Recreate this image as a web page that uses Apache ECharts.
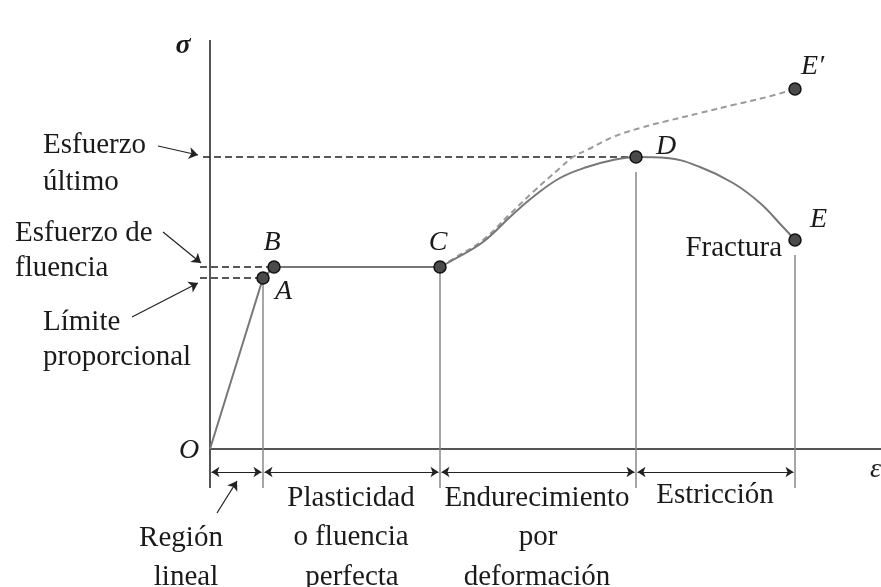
<!DOCTYPE html>
<html>
<head>
<meta charset="utf-8">
<script src="https://cdn.jsdelivr.net/npm/echarts@6/dist/echarts.min.js"></script>
<style>
html, body { margin: 0; padding: 0; background: #fff; }
#main { width: 881px; height: 587px; }
</style>
</head>
<body>
<div id="main"></div>
<script>
// puntos notables del diagrama esfuerzo-deformacion (unidades arbitrarias)
var pointNames = ['A', 'B', 'C', 'D', 'E', 'E\u2032'];
var pointX = [5.3, 6.4, 23.0, 42.6, 58.5, 58.5];
var pointY = [17.1, 18.2, 18.2, 29.2, 20.9, 36.0];

// O -> A -> B -> C (tramo lineal y fluencia)
var elasticX = [0, 5.3, 6.4, 23.0];
var elasticY = [0, 17.1, 18.2, 18.2];

// C -> D -> E (curva convencional)
var curveX = [23.0, 24.3, 27.3, 30.0, 32.3, 35.0, 37.7, 40.3, 42.6, 45.7, 49.0, 52.3, 55.0, 57.3, 58.5];
var curveY = [18.2, 18.9, 20.7, 23.2, 25.2, 27.1, 28.2, 28.9, 29.2, 29.1, 28.2, 26.6, 24.6, 22.2, 20.9];

// C -> E' (curva real, punteada)
var trueX = [23.0, 24.3, 27.3, 30.0, 32.3, 35.0, 36.3, 37.7, 40.3, 43.0, 45.7, 49.0, 52.3, 55.7, 58.5];
var trueY = [18.2, 19.0, 20.9, 23.5, 25.7, 28.1, 29.2, 29.9, 31.2, 32.1, 32.8, 33.6, 34.4, 35.2, 36.0];

// limites de las regiones sobre el eje de deformacion
var regionBounds = [0, 5.3, 23.0, 42.6, 58.5];

function pairs(xs, ys) {
    return xs.map(function (x, i) { return [x, ys[i]]; });
}

var myChart = echarts.init(document.getElementById('main'), null, {renderer: 'canvas'});

var serif = '"Liberation Serif", "Times New Roman", serif';
var txt = '29px ' + serif;
var ital = 'italic 28px ' + serif;
var ink = '#1a1a1a';

// lineas guia
var dimY = -2.3, tickBottom = -3.9;
var vertical = [
    [[regionBounds[1], 17.1], [regionBounds[1], tickBottom]],
    [[regionBounds[2], 18.2], [regionBounds[2], tickBottom]],
    [[regionBounds[3], 27.7], [regionBounds[3], tickBottom]],
    [[regionBounds[4], 19.4], [regionBounds[4], tickBottom]]
];
var dashedH = [
    [[-0.7, pointY[3]], [pointX[3], pointY[3]]],
    [[-1.0, pointY[1]], [pointX[1], pointY[1]]],
    [[-1.0, pointY[0]], [pointX[0], pointY[0]]]
];
var dims = [];
for (var i = 0; i < regionBounds.length - 1; i++) {
    dims.push([{coord: [regionBounds[i] + 0.15, dimY]}, {coord: [regionBounds[i + 1] - 0.15, dimY]}]);
}
var pointers = [
    [{coord: [-5.2, 30.3]}, {coord: [-1.2, 29.4]}],
    [{coord: [-4.7, 21.7]}, {coord: [-0.9, 18.6]}],
    [{coord: [-7.8, 13.2]}, {coord: [-1.2, 16.6]}],
    [{coord: [0.7, -6.4]}, {coord: [2.7, -3.2]}]
];

function seg(name, pts, color, width, type) {
    return {
        name: name, type: 'line', data: pts, symbol: 'none', silent: true,
        lineStyle: {color: color, width: width, type: type || 'solid'}, z: 2
    };
}

var labelOffsets = [[12, 14], [-2, -24], [-2, -24], [20, -10], [15, -20], [6, -22]];
var labelAlign = ['left', 'center', 'center', 'left', 'left', 'left'];

var series = [
    seg('ejeY', [[0, tickBottom], [0, 40.9]], '#555', 2),
    seg('ejeX', [[0, 0], [67.1, 0]], '#555', 2)
];
vertical.forEach(function (v, i) { series.push(seg('v' + i, v, '#888', 1.5)); });
dashedH.forEach(function (h, i) { series.push(seg('h' + i, h, '#222', 1.5, [7, 4])); });

series.push({
    name: 'real', type: 'line', data: pairs(trueX, trueY), symbol: 'none', smooth: 0.4,
    silent: true, lineStyle: {color: '#9a9a9a', width: 2, type: [6, 4]}, z: 3
});
series.push({
    name: 'lineal', type: 'line', data: pairs(elasticX, elasticY), symbol: 'none',
    silent: true, lineStyle: {color: '#777', width: 2}, z: 3
});
series.push({
    name: 'convencional', type: 'line', data: pairs(curveX, curveY), symbol: 'none', smooth: 0.4,
    silent: true, lineStyle: {color: '#777', width: 2}, z: 3,
    markLine: {
        silent: true, symbol: ['arrow', 'arrow'], symbolSize: 8,
        label: {show: false},
        lineStyle: {color: '#222', width: 1, type: 'solid'},
        data: dims
    }
});
series.push({
    name: 'flechas', type: 'line', data: [[0, 0]], symbol: 'none', silent: true,
    lineStyle: {width: 0},
    markLine: {
        silent: true, symbol: ['none', 'arrow'], symbolSize: 9,
        label: {show: false},
        lineStyle: {color: '#222', width: 1.2, type: 'solid'},
        data: pointers
    }
});
series.push({
    name: 'puntos', type: 'scatter', symbolSize: 12, z: 5, silent: true,
    itemStyle: {color: '#4a4a4a', borderColor: '#111', borderWidth: 1.5, opacity: 1},
    data: pointX.map(function (x, i) {
        return {
            value: [x, pointY[i]], name: pointNames[i],
            label: {show: true, formatter: pointNames[i], position: 'inside',
                offset: labelOffsets[i], align: labelAlign[i],
                color: ink, fontFamily: serif, fontStyle: 'italic', fontSize: 28}
        };
    })
});

function t(text, x, y, font, align) {
    return {type: 'text', x: x, y: y, z: 10, silent: true,
        style: {text: text, font: font || txt, fill: ink, align: align || 'left', verticalAlign: 'middle'}};
}

var graphic = [
    t('\u03c3', 183, 46, 'italic bold 28px ' + serif, 'center'),
    t('O', 189, 451, ital, 'center'),
    t('\u03b5', 870, 470, ital, 'left'),
    t('Esfuerzo', 43, 145), t('\u00faltimo', 43, 182),
    t('Esfuerzo de', 15, 233), t('fluencia', 15, 268),
    t('L\u00edmite', 43, 322), t('proporcional', 43, 357),
    t('Fractura', 782, 248, txt, 'right'),
    t('Regi\u00f3n', 181, 538, txt, 'center'), t('lineal', 186, 577, txt, 'center'),
    t('Plasticidad', 351, 498, txt, 'center'), t('o fluencia', 351, 537, txt, 'center'),
    t('perfecta', 352, 577, txt, 'center'),
    t('Endurecimiento', 537, 498, txt, 'center'), t('por', 538, 537, txt, 'center'),
    t('deformaci\u00f3n', 537, 577, txt, 'center'),
    t('Estricci\u00f3n', 715, 495, txt, 'center')
];

var option = {
    backgroundColor: '#fff',
    animation: false,
    grid: {left: 0, right: 0, top: 0, bottom: 0},
    xAxis: {type: 'value', min: -21, max: 67.1, show: false},
    yAxis: {type: 'value', min: -13.8, max: 44.9, show: false},
    graphic: graphic,
    series: series
};
myChart.setOption(option);
</script>
</body>
</html>
